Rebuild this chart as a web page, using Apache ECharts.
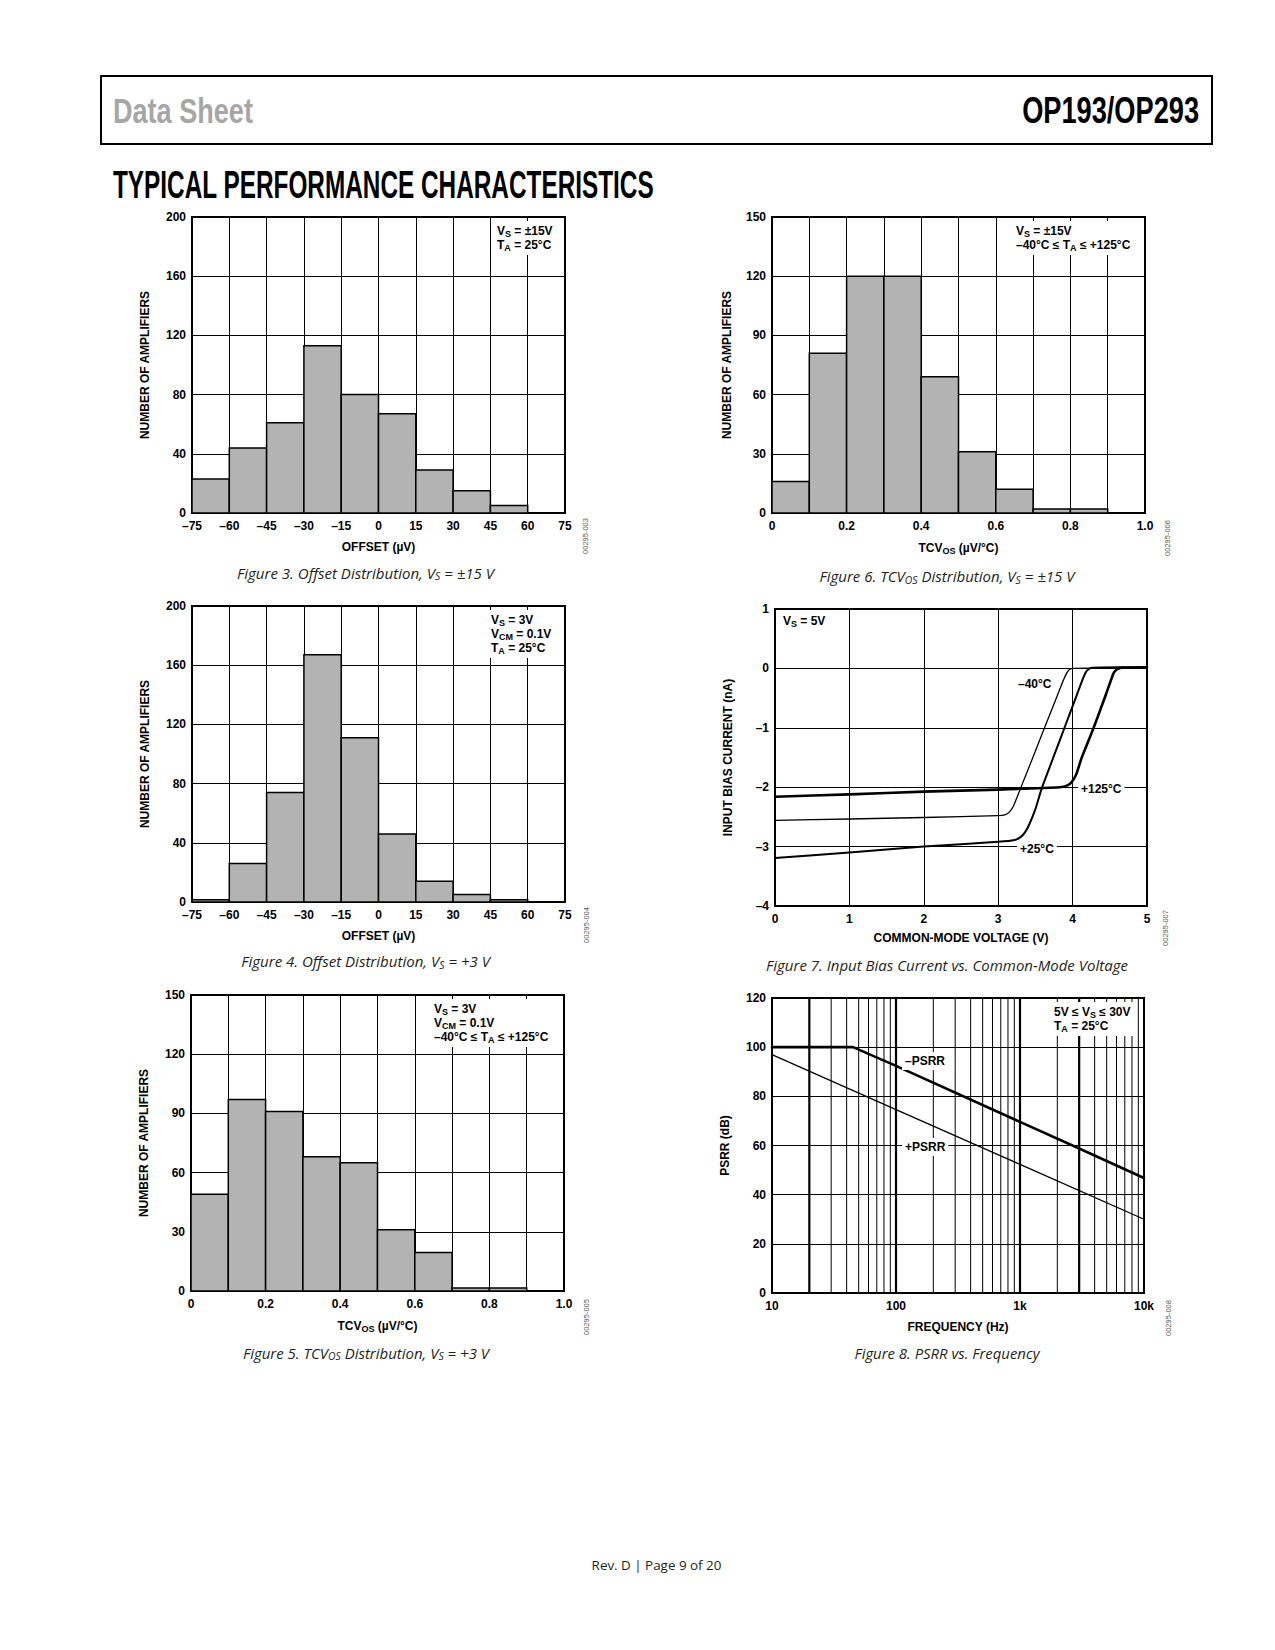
<!DOCTYPE html>
<html><head><meta charset="utf-8">
<script src="https://cdn.jsdelivr.net/npm/echarts@6/dist/echarts.min.js"></script>
<style>html,body{margin:0;padding:0;background:#fff}#c{width:1275px;height:1650px}</style>
</head><body><div id="c"></div>
<script>
// ---------------- DATA ----------------
const offsetEdges = [-75, -60, -45, -30, -15, 0, 15, 30, 45, 60, 75];
const fig3Counts = [23, 44, 61, 113, 80, 67, 29, 15, 5, 0];
const fig4Counts = [1.5, 26, 74, 167, 111, 46, 14, 5, 1.5, 0];
const tcvEdges = [0, 0.1, 0.2, 0.3, 0.4, 0.5, 0.6, 0.7, 0.8, 0.9, 1.0];
const fig6Counts = [16, 81, 120, 120, 69, 31, 12, 2, 2, 0];
const fig5Counts = [49, 97, 91, 68, 65, 31, 19.5, 1.5, 1.5, 0];

// Figure 7: input bias current (nA) vs common-mode voltage (V)
const vcmM40 = [0, 1, 2, 3.0, 3.1, 3.15, 3.2, 3.25, 3.3, 3.45, 3.6, 3.75, 3.85, 3.9, 3.94, 3.97, 4.0, 4.5, 5];
const ibM40  = [-2.56, -2.535, -2.51, -2.48, -2.46, -2.42, -2.33, -2.18, -2.02, -1.55, -1.07, -0.6, -0.28, -0.13, -0.04, -0.01, 0.0, 0.01, 0.01];
const vcmP25 = [0, 1, 2, 3, 3.22, 3.3, 3.36, 3.42, 3.5, 3.585, 3.75, 3.9, 4.05, 4.13, 4.18, 4.22, 4.26, 4.6, 5];
const ibP25  = [-3.19, -3.1, -3.0, -2.92, -2.89, -2.84, -2.76, -2.62, -2.37, -2.02, -1.47, -0.97, -0.47, -0.2, -0.06, -0.01, 0.01, 0.02, 0.02];
const vcmP125 = [0, 1, 2, 3, 3.83, 3.93, 3.99, 4.05, 4.12, 4.28, 4.45, 4.55, 4.59, 4.62, 4.66, 5];
const ibP125  = [-2.16, -2.12, -2.075, -2.04, -2.0, -1.97, -1.91, -1.78, -1.51, -1.01, -0.43, -0.08, -0.02, 0.0, 0.01, 0.02];

// Figure 8: PSRR (dB) vs frequency (Hz)
const freqMinus = [10, 45, 100, 1000, 3000, 10000];
const psrrMinus = [100, 100, 92.4, 69.6, 58.8, 46.8];
const freqPlus = [10, 100, 1000, 10000];
const psrrPlus = [97, 74.6, 52.3, 30];
const psrrGridFreq = [20, 30, 40, 50, 60, 70, 80, 90, 100, 200, 300, 400, 500, 600, 700, 800, 900,
                      1000, 2000, 3000, 4000, 5000, 6000, 7000, 8000, 9000];
const psrrGridMajor = [20, 100, 1000, 3000];

// ---------------- HELPERS ----------------
const FF = '"Liberation Sans", Arial, Helvetica, sans-serif';
const CF = '"Open Sans", "Noto Sans", sans-serif';
const mctx = document.createElement('canvas').getContext('2d');
function measure(t, font) { mctx.font = font; return mctx.measureText(t).width; }

const labelStyle = { color: '#000', fontSize: 12, fontWeight: 'bold', fontFamily: FF };
const nameStyle = {
  color: '#000', fontSize: 12, fontWeight: 'bold', fontFamily: FF,
  rich: {
    a: { color: '#000', fontSize: 12, fontWeight: 'bold', fontFamily: FF, lineHeight: 14 },
    s: { color: '#000', fontSize: 9, fontWeight: 'bold', fontFamily: FF, lineHeight: 14, verticalAlign: 'bottom' }
  }
};
const dash = v => (v < 0 ? '\u2013' + (-v) : String(v));

function xAxis(gi, o) {
  return Object.assign({
    gridIndex: gi, type: 'value',
    axisLine: { show: false }, axisTick: { show: false },
    splitLine: { show: true, lineStyle: { color: '#000', width: 1 } },
    axisLabel: Object.assign({ margin: 7 }, labelStyle, o.label || {}),
    nameLocation: 'middle', nameGap: 28, nameTextStyle: nameStyle
  }, o.opt);
}
function yAxis(gi, o) {
  return Object.assign({
    gridIndex: gi, type: 'value',
    axisLine: { show: false }, axisTick: { show: false },
    splitLine: { show: true, lineStyle: { color: '#000', width: 1 } },
    axisLabel: Object.assign({ margin: 6 }, labelStyle, o.label || {}),
    nameLocation: 'middle', nameGap: 41, nameTextStyle: nameStyle
  }, o.opt);
}
function histSeries(ai, edges, counts) {
  return {
    type: 'custom', xAxisIndex: ai, yAxisIndex: ai, silent: true, z: 3,
    dimensions: ['x0', 'x1', 'n'], encode: { x: [0, 1], y: 2 },
    data: counts.map((n, i) => [edges[i], edges[i + 1], n]),
    renderItem: function (params, api) {
      const n = api.value(2);
      if (!(n > 0)) return null;
      const p0 = api.coord([api.value(0), n]);
      const p1 = api.coord([api.value(1), 0]);
      return { type: 'rect', shape: { x: p0[0], y: p0[1], width: p1[0] - p0[0], height: p1[1] - p0[1] },
        style: { fill: '#b3b3b3', stroke: '#000', lineWidth: 1.5 } };
    }
  };
}
function lineSeries(ai, xs, ys, w, smooth) {
  return { type: 'line', xAxisIndex: ai, yAxisIndex: ai, symbol: 'none', silent: true, z: 4,
    smooth: smooth,
    data: xs.map((x, i) => [x, ys[i]]),
    lineStyle: { color: '#000', width: w, cap: 'round', join: 'round' } };
}
const tcvFmt = v => { const k = Math.round(v * 10); if (k % 2) return ''; return k === 0 ? '0' : (k / 10).toFixed(1); };

// ---------------- GRAPHIC TEXT ----------------
const G = [];
const rA = { fontSize: 12, fontWeight: 'bold', fontFamily: FF, fill: '#000', lineHeight: 14 };
const rS = { fontSize: 9, fontWeight: 'bold', fontFamily: FF, fill: '#000', lineHeight: 14, verticalAlign: 'bottom' };
function note(x, y, text, va) {
  G.push({ type: 'text', x: x, y: y, z: 100, silent: true,
    style: { text: text, rich: { a: rA, s: rS }, align: 'left', verticalAlign: va || 'top',
      backgroundColor: '#fff', padding: [3, 4, 3, 4] } });
}
// header
G.push({ type: 'rect', z: 100, silent: true, shape: { x: 101, y: 76, width: 1111, height: 68 },
  style: { fill: 'none', stroke: '#000', lineWidth: 2 } });
function bigText(x, y, t, size, color, target, align) {
  const w = measure(t, 'bold ' + size + 'px ' + FF);
  G.push({ type: 'text', x: x, y: y, z: 100, silent: true, scaleX: target / w,
    style: { text: t, fontSize: size, fontWeight: 'bold', fontFamily: FF, fill: color, align: align, verticalAlign: 'middle' } });
}
bigText(113, 110.5, 'Data Sheet', 36, '#a6a6a6', 140, 'left');
bigText(1199, 110.5, 'OP193/OP293', 37, '#000', 177, 'right');
bigText(113, 185, 'TYPICAL PERFORMANCE CHARACTERISTICS', 38, '#000', 541, 'left');

// captions
const cMain = { fontSize: 14.5, fontStyle: 'italic', fontFamily: CF, fill: '#231f20', lineHeight: 17 };
const cSub = { fontSize: 10, fontStyle: 'italic', fontFamily: CF, fill: '#231f20', lineHeight: 17, verticalAlign: 'bottom' };
function caption(cx, cy, parts, target) {
  let w = 0, txt = '';
  parts.forEach(p => {
    const sub = p[0] === 's';
    w += measure(p[1], 'italic ' + (sub ? 10 : 14.5) + 'px ' + CF);
    txt += '{' + (sub ? 's' : 'c') + '|' + p[1] + '}';
  });
  G.push({ type: 'text', x: cx, y: cy, z: 100, silent: true, scaleX: target / w,
    style: { text: txt, rich: { c: cMain, s: cSub }, align: 'center', verticalAlign: 'middle' } });
}
caption(365.5, 573, [['c', 'Figure 3. Offset Distribution, V'], ['s', 'S'], ['c', ' = \u00b115 V']], 257);
caption(947, 576.5, [['c', 'Figure 6. TCV'], ['s', 'OS'], ['c', ' Distribution, V'], ['s', 'S'], ['c', ' = \u00b115 V']], 255);
caption(365.6, 961.6, [['c', 'Figure 4. Offset Distribution, V'], ['s', 'S'], ['c', ' = +3 V']], 249);
caption(947, 964.7, [['c', 'Figure 7. Input Bias Current vs. Common-Mode Voltage']], 362);
caption(366, 1353, [['c', 'Figure 5. TCV'], ['s', 'OS'], ['c', ' Distribution, V'], ['s', 'S'], ['c', ' = +3 V']], 246);
caption(947, 1353, [['c', 'Figure 8. PSRR vs. Frequency']], 185);
// footer
(function () {
  const t = 'Rev. D | Page 9 of 20';
  const w = measure(t, '13px ' + CF);
  G.push({ type: 'text', x: 656.5, y: 1565, z: 100, silent: true, scaleX: 130 / w,
    style: { text: t, fontSize: 13, fontFamily: CF, fill: '#231f20', align: 'center', verticalAlign: 'middle' } });
})();
// figure ids
[[585.5, 536, '00295-003'], [1167, 538, '00295-006'], [586, 925, '00295-004'],
 [1165, 928, '00295-007'], [586, 1317, '00295-005'], [1168, 1318, '00295-008']].forEach(d => {
  G.push({ type: 'text', x: d[0], y: d[1], rotation: Math.PI / 2, z: 100, silent: true,
    style: { text: d[2], fontSize: 7.5, fontFamily: FF, fill: '#555', align: 'center', verticalAlign: 'middle' } });
});
// annotations
note(493, 221, '{a|V}{s|S}{a| = \u00b115V}\n{a|T}{s|A}{a| = 25\u00b0C}');
note(1012, 221, '{a|V}{s|S}{a| = \u00b115V}\n{a|\u201340\u00b0C \u2264 T}{s|A}{a| \u2264 +125\u00b0C}');
note(487, 610, '{a|V}{s|S}{a| = 3V}\n{a|V}{s|CM}{a| = 0.1V}\n{a|T}{s|A}{a| = 25\u00b0C}');
note(430, 999, '{a|V}{s|S}{a| = 3V}\n{a|V}{s|CM}{a| = 0.1V}\n{a|\u201340\u00b0C \u2264 T}{s|A}{a| \u2264 +125\u00b0C}');
note(779, 611, '{a|V}{s|S}{a| = 5V}');
note(1050, 1002, '{a|5V \u2264 V}{s|S}{a| \u2264 30V}\n{a|T}{s|A}{a| = 25\u00b0C}');
function tag(x, y, t) {
  G.push({ type: 'text', x: x, y: y, z: 100, silent: true,
    style: { text: t, fontSize: 12, fontWeight: 'bold', fontFamily: FF, fill: '#000', align: 'left', verticalAlign: 'middle',
      backgroundColor: '#fff', padding: [3, 3, 3, 3] } });
}
tag(1015, 684, '\u201340\u00b0C');
tag(1078, 789, '+125\u00b0C');
tag(1017, 849, '+25\u00b0C');
tag(902, 1061, '\u2013PSRR');
tag(902, 1147, '+PSRR');

// ---------------- OPTION ----------------
const gridBase = { show: true, borderColor: '#000', borderWidth: 2, backgroundColor: 'transparent', containLabel: false, outerBoundsMode: 'none' };
const option = {
  animation: false,
  backgroundColor: '#fff',
  grid: [
    Object.assign({ left: 192, top: 217, width: 373, height: 296 }, gridBase),
    Object.assign({ left: 772, top: 217, width: 373, height: 296 }, gridBase),
    Object.assign({ left: 192, top: 606, width: 373, height: 296 }, gridBase),
    Object.assign({ left: 775, top: 609, width: 372, height: 297 }, gridBase),
    Object.assign({ left: 191, top: 995, width: 373, height: 296 }, gridBase),
    Object.assign({ left: 772, top: 998, width: 372, height: 295 }, gridBase)
  ],
  xAxis: [
    xAxis(0, { opt: { min: -75, max: 75, interval: 15, name: 'OFFSET (\u00b5V)' }, label: { formatter: dash } }),
    xAxis(1, { opt: { min: 0, max: 1, interval: 0.1, name: '{a|TCV}{s|OS}{a| (\u00b5V/\u00b0C)}' }, label: { formatter: tcvFmt } }),
    xAxis(2, { opt: { min: -75, max: 75, interval: 15, name: 'OFFSET (\u00b5V)' }, label: { formatter: dash } }),
    xAxis(3, { opt: { min: 0, max: 5, interval: 1, name: 'COMMON-MODE VOLTAGE (V)', nameGap: 26 } }),
    xAxis(4, { opt: { min: 0, max: 1, interval: 0.1, name: '{a|TCV}{s|OS}{a| (\u00b5V/\u00b0C)}' }, label: { formatter: tcvFmt } }),
    xAxis(5, { opt: { type: 'log', logBase: 10, min: 10, max: 10000, name: 'FREQUENCY (Hz)', splitLine: { show: false } },
      label: { formatter: v => { v = Math.round(v); return v >= 1000 ? (v / 1000) + 'k' : String(v); } } })
  ],
  yAxis: [
    yAxis(0, { opt: { min: 0, max: 200, interval: 40, name: 'NUMBER OF AMPLIFIERS' } }),
    yAxis(1, { opt: { min: 0, max: 150, interval: 30, name: 'NUMBER OF AMPLIFIERS', nameGap: 39 } }),
    yAxis(2, { opt: { min: 0, max: 200, interval: 40, name: 'NUMBER OF AMPLIFIERS' } }),
    yAxis(3, { opt: { min: -4, max: 1, interval: 1, name: 'INPUT BIAS CURRENT (nA)' }, label: { formatter: dash } }),
    yAxis(4, { opt: { min: 0, max: 150, interval: 30, name: 'NUMBER OF AMPLIFIERS' } }),
    yAxis(5, { opt: { min: 0, max: 120, interval: 20, name: 'PSRR (dB)' } })
  ],
  series: [
    histSeries(0, offsetEdges, fig3Counts),
    histSeries(1, tcvEdges, fig6Counts),
    histSeries(2, offsetEdges, fig4Counts),
    lineSeries(3, vcmM40, ibM40, 1.3, 0.15),
    lineSeries(3, vcmP25, ibP25, 2.0, 0.15),
    lineSeries(3, vcmP125, ibP125, 2.6, 0.15),
    histSeries(4, tcvEdges, fig5Counts),
    {
      type: 'custom', xAxisIndex: 5, yAxisIndex: 5, silent: true, z: 2,
      dimensions: ['f', 'y'], encode: { x: 0, y: 1 },
      data: psrrGridFreq.map(f => [f, 0]),
      renderItem: function (params, api) {
        const f = api.value(0);
        const a = api.coord([f, 0]), b = api.coord([f, 120]);
        const major = psrrGridMajor.indexOf(Math.round(f)) >= 0;
        return { type: 'line', shape: { x1: a[0], y1: a[1], x2: b[0], y2: b[1] },
          style: { stroke: '#000', lineWidth: major ? 2.2 : 1 } };
      }
    },
    lineSeries(5, freqMinus, psrrMinus, 2.6, false),
    lineSeries(5, freqPlus, psrrPlus, 1.3, false)
  ],
  graphic: { elements: G }
};
const chart = echarts.init(document.getElementById('c'), null, { renderer: 'svg', width: 1275, height: 1650 });
chart.setOption(option);
</script>
</body></html>
